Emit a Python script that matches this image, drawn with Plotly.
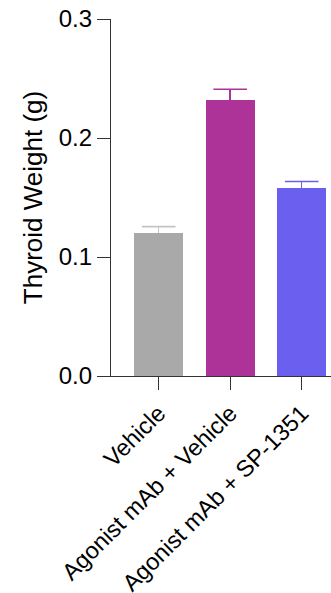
import plotly.graph_objects as go

categories = ["Vehicle", "Agonist mAb + Vehicle", "Agonist mAb + SP-1351"]
means = [0.120, 0.232, 0.158]
sem = [0.0055, 0.009, 0.0055]
bar_colors = ["#a9a9a9", "#ad3399", "#6b5ff0"]
err_colors = ["#c4c4c4", "#ad3399", "#6b5ff0"]
y_ticks = [0.0, 0.1, 0.2, 0.3]

FONT = "Liberation Sans, Arial, sans-serif"

fig = go.Figure()
for i, cat in enumerate(categories):
    fig.add_trace(go.Bar(
        x=[i], y=[means[i]],
        width=0.68,
        marker=dict(color=bar_colors[i], line=dict(width=0)),
        error_y=dict(type="data", symmetric=False, array=[sem[i]], arrayminus=[0],
                     color=err_colors[i], thickness=1.6, width=0),
        showlegend=False,
    ))
    # cap of the upper error bar
    fig.add_trace(go.Scatter(
        x=[i], y=[means[i] + sem[i]], mode="markers",
        marker=dict(symbol="line-ew", size=24, color=err_colors[i],
                    line=dict(width=1.6, color=err_colors[i])),
        showlegend=False, hoverinfo="skip",
    ))

fig.update_layout(
    width=331, height=593,
    margin=dict(l=111, r=0, t=19, b=217),
    plot_bgcolor="white", paper_bgcolor="white",
    font=dict(family=FONT, size=24, color="black"),
    bargap=0,
)
fig.update_xaxes(
    range=[-0.667, 2.41],
    tickmode="array", tickvals=list(range(len(categories))), ticktext=categories,
    tickangle=-45, automargin=False,
    showline=True, linecolor="#333", linewidth=1.3,
    ticks="outside", ticklen=13, tickwidth=1.3, tickcolor="#333",
    showgrid=False, zeroline=False,
    tickfont=dict(size=23.5, color="black"),
)
fig.update_yaxes(
    range=[0, 0.3], automargin=False,
    tickmode="array", tickvals=y_ticks, ticktext=[f"{v:.1f}" for v in y_ticks],
    showline=True, linecolor="#333", linewidth=1.3,
    ticks="outside", ticklen=13, tickwidth=1.3, tickcolor="#333",
    showgrid=False, zeroline=False,
    tickfont=dict(size=24, color="black"),
    title=dict(text="Thyroid Weight (g)", font=dict(size=26, color="black"), standoff=8),
)

fig.write_html("out.html")
